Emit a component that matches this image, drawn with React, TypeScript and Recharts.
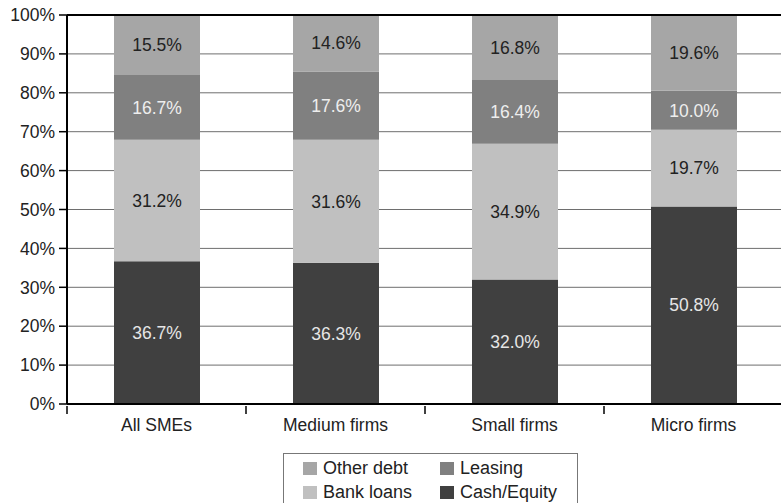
import React from 'react';
import { Bar, BarChart, CartesianGrid, LabelList, Legend, ReferenceLine, XAxis, YAxis } from 'recharts';

const categories = ['All SMEs', 'Medium firms', 'Small firms', 'Micro firms'];
const cashEquity = [36.7, 36.3, 32.0, 50.8];
const bankLoans = [31.2, 31.6, 34.9, 19.7];
const leasing = [16.7, 17.6, 16.4, 10.0];
const otherDebt = [15.5, 14.6, 16.8, 19.6];
const yTicks = [0, 10, 20, 30, 40, 50, 60, 70, 80, 90, 100];

const data = categories.map((name, i) => ({
  name,
  cash: cashEquity[i],
  bank: bankLoans[i],
  leasing: leasing[i],
  other: otherDebt[i],
}));

const FONT = '"Liberation Sans", Arial, sans-serif';
const TEXT = '#222';
const FS = 17.5;

const CHART_W = 783;
const CHART_H = 503;
const LEFT = 67;
// width of one category band, used to put x ticks on band edges
const BAND = (CHART_W - LEFT) / categories.length;

const legendItems = [
  { label: 'Other debt', color: '#a6a6a6' },
  { label: 'Leasing', color: '#808080' },
  { label: 'Bank loans', color: '#c0c0c0' },
  { label: 'Cash/Equity', color: '#404040' },
];

const fmt = (v: any) => `${Number(v).toFixed(1)}%`;

const CategoryTick = (props: any) => {
  const { x, y, payload } = props;
  const edge = x - BAND / 2;
  return (
    <g>
      <line x1={edge} x2={edge} y1={y} y2={y + 8} stroke="#000" strokeWidth={1.5} />
      <text x={x} y={y + 25} textAnchor="middle" fill={TEXT} fontSize={FS} fontFamily={FONT}>
        {payload.value}
      </text>
    </g>
  );
};

const LegendBox = () => (
  <div
    style={{
      width: 295,
      height: 70,
      boxSizing: 'border-box',
      border: '1px solid #777',
      background: '#fff',
      padding: '2px 0 0 19px',
      display: 'grid',
      gridTemplateColumns: '137px 130px',
      gridAutoRows: '24px',
      fontFamily: FONT,
      fontSize: 18,
      lineHeight: '24px',
      color: TEXT,
    }}
  >
    {legendItems.map((it) => (
      <div key={it.label} style={{ display: 'flex', alignItems: 'center', height: 24 }}>
        <span style={{ width: 14, height: 13, background: it.color, marginRight: 6, display: 'inline-block' }} />
        <span>{it.label}</span>
      </div>
    ))}
  </div>
);

export default function App() {
  return (
    <div style={{ position: 'absolute', left: 0, top: 0, width: 781, height: 503, overflow: 'hidden', background: '#fff' }}>
      <BarChart
        width={CHART_W}
        height={CHART_H}
        data={data}
        margin={{ top: 15, right: 0, bottom: 0, left: 0 }}
        barSize={86}
      >
        <CartesianGrid vertical={false} stroke="#6e6e6e" strokeWidth={1} />
        <XAxis
          dataKey="name"
          tick={<CategoryTick />}
          tickLine={false}
          tickSize={0}
          axisLine={{ stroke: '#000', strokeWidth: 2 }}
          interval={0}
          height={99}
        />
        <YAxis
          width={LEFT}
          domain={[0, 100]}
          ticks={yTicks}
          allowDataOverflow
          tickFormatter={(v: number) => `${v}%`}
          tick={{ fill: TEXT, fontSize: FS, fontFamily: FONT }}
          tickSize={8}
          tickMargin={4}
          tickLine={{ stroke: '#000', strokeWidth: 1.5 }}
          axisLine={{ stroke: '#000', strokeWidth: 2 }}
        />
        <ReferenceLine y={100} stroke="#000" strokeWidth={2} />
        <Bar dataKey="cash" stackId="a" fill="#404040" isAnimationActive={false}>
          <LabelList dataKey="cash" position="center" formatter={fmt} fill="#e6e6e6" fontSize={FS} fontFamily={FONT} />
        </Bar>
        <Bar dataKey="bank" stackId="a" fill="#c0c0c0" isAnimationActive={false}>
          <LabelList dataKey="bank" position="center" formatter={fmt} fill={TEXT} fontSize={FS} fontFamily={FONT} />
        </Bar>
        <Bar dataKey="leasing" stackId="a" fill="#808080" isAnimationActive={false}>
          <LabelList dataKey="leasing" position="center" formatter={fmt} fill="#eeeeee" fontSize={FS} fontFamily={FONT} />
        </Bar>
        <Bar dataKey="other" stackId="a" fill="#a6a6a6" isAnimationActive={false}>
          <LabelList dataKey="other" position="center" formatter={fmt} fill={TEXT} fontSize={FS} fontFamily={FONT} />
        </Bar>
        <Legend
          layout="vertical"
          align="center"
          verticalAlign="middle"
          content={<LegendBox />}
          wrapperStyle={{ position: 'absolute', left: 283, top: 453, width: 295 }}
        />
      </BarChart>
    </div>
  );
}
